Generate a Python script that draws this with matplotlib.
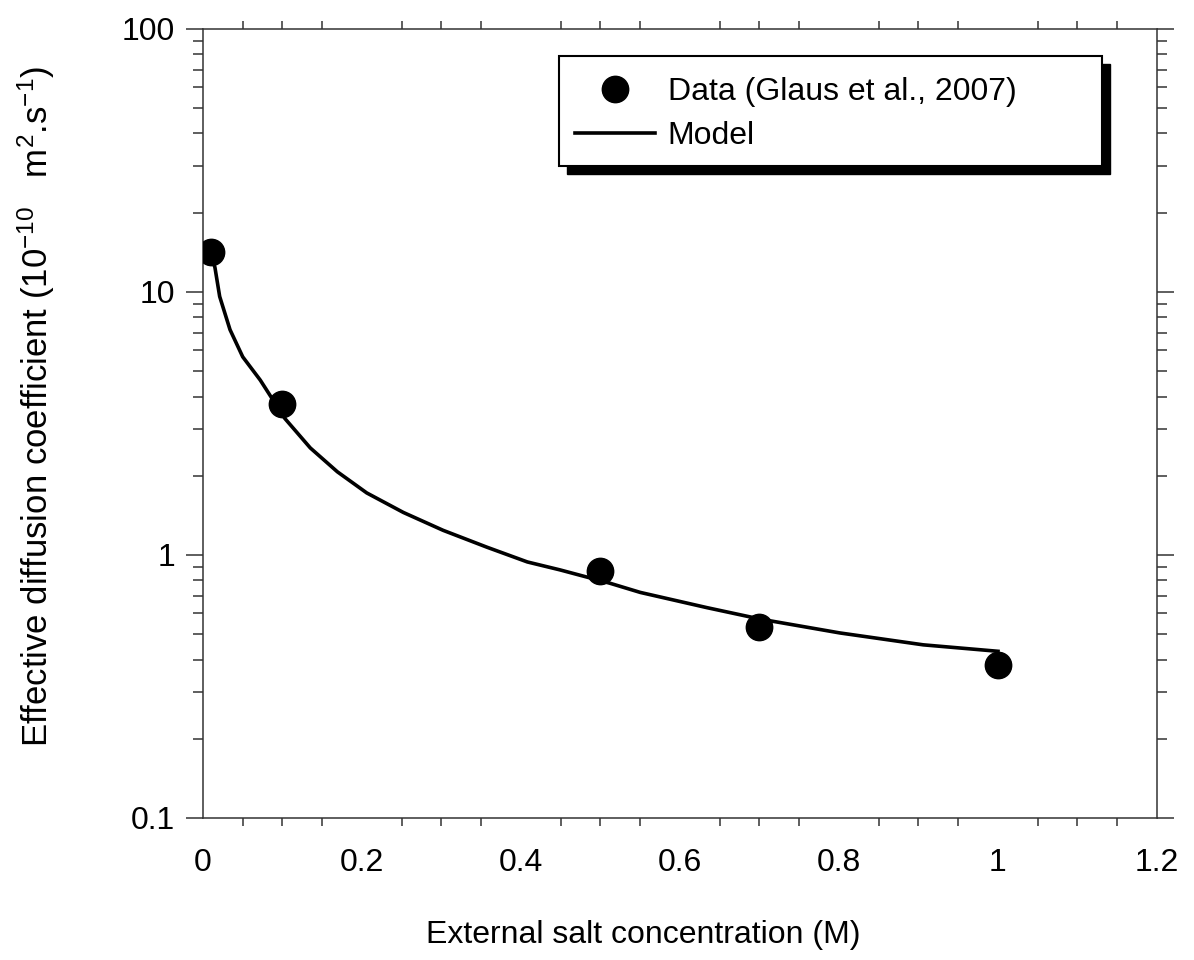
import matplotlib
matplotlib.use('Agg')
import matplotlib.pyplot as plt
from matplotlib.ticker import MultipleLocator, LogLocator, FuncFormatter, NullFormatter, FixedLocator
from matplotlib.patches import Rectangle

plt.rcParams['font.family'] = ['Liberation Sans', 'DejaVu Sans']
plt.rcParams['mathtext.fontset'] = 'custom'
plt.rcParams['mathtext.rm'] = 'Liberation Sans'
plt.rcParams['mathtext.it'] = 'Liberation Sans'
plt.rcParams['mathtext.default'] = 'regular'

# data
conc_data = [0.01, 0.1, 0.5, 0.7, 1.0]
de_data = [14.2, 3.75, 0.87, 0.53, 0.38]

conc_model = [0.01, 0.015, 0.021, 0.034, 0.05, 0.072, 0.103, 0.135, 0.169, 0.206,
              0.252, 0.302, 0.357, 0.408, 0.449, 0.512, 0.55, 0.634, 0.701, 0.801,
              0.906, 1.0]
de_model = [13.8, 12.4, 9.6, 7.18, 5.66, 4.62, 3.3, 2.55, 2.07, 1.72,
            1.45, 1.24, 1.07, 0.94, 0.877, 0.78, 0.72, 0.63, 0.57, 0.505,
            0.455, 0.43]

y_major = [0.1, 1, 10, 100]
x_major = [0, 0.2, 0.4, 0.6, 0.8, 1.0, 1.2]

fs = 23
axcol = '#333333'

fig = plt.figure(figsize=(11.94, 9.6), dpi=100)
ax = fig.add_axes([0.170, 0.148, 0.799, 0.822])

ax.plot(conc_model, de_model, '-', color='black', lw=2.6, zorder=3, label='Model')
ax.plot(conc_data, de_data, 'o', color='black', ms=19, zorder=4,
        label='Data (Glaus et al., 2007)')

ax.set_yscale('log')
ax.set_xlim(0, 1.2)
ax.set_ylim(0.1, 100)

ax.yaxis.set_major_locator(FixedLocator(y_major))
ax.yaxis.set_minor_locator(LogLocator(base=10, subs=range(2, 10)))
ax.yaxis.set_major_formatter(FuncFormatter(lambda v, p: '%g' % v))
ax.yaxis.set_minor_formatter(NullFormatter())

ax.xaxis.set_major_locator(FixedLocator(x_major))
ax.xaxis.set_minor_locator(MultipleLocator(0.05))
ax.xaxis.set_major_formatter(FuncFormatter(lambda v, p: '%g' % v))

for s in ax.spines.values():
    s.set_color(axcol)
    s.set_linewidth(1.1)

ax.tick_params(axis='y', which='major', direction='out', length=12, width=1.1,
               color=axcol, labelsize=fs, pad=8, left=True, right=True)
ax.tick_params(axis='y', which='minor', direction='out', length=7, width=1.1,
               color=axcol, left=True, right=True)
ax.tick_params(axis='x', which='major', direction='out', length=0, width=1.1,
               color=axcol, labelsize=fs, pad=22, bottom=True, top=True)
ax.tick_params(axis='x', which='minor', direction='out', length=6, width=1.1,
               color=axcol, bottom=True, top=True)

ax.set_xlabel('External salt concentration (M)', fontsize=fs)
ax.xaxis.set_label_coords(0.461, -0.129)
ax.set_ylabel(r'Effective diffusion coefficient (10$^{-10}$   m$^{2}$.s$^{-1}$)',
              fontsize=25)
ax.yaxis.set_label_coords(-0.153, 0.521)

# legend box with a hard black shadow
box_x0, box_y0, box_w, box_h = 0.373, 0.826, 0.569, 0.140
ax.add_patch(Rectangle((box_x0 + 0.0084, box_y0 - 0.0101), box_w, box_h,
                       transform=ax.transAxes, facecolor='black', edgecolor='black',
                       clip_on=False, zorder=5))
ax.add_patch(Rectangle((box_x0, box_y0), box_w, box_h, transform=ax.transAxes,
                       facecolor='white', edgecolor='black', lw=1.5,
                       clip_on=False, zorder=6))

handles, labels = ax.get_legend_handles_labels()
leg = ax.legend(handles[::-1], labels[::-1], loc='upper left',
                bbox_to_anchor=(0.390, 0.939), frameon=False, fontsize=fs,
                borderpad=0, borderaxespad=0, handlelength=2.5,
                handletextpad=0.4, labelspacing=0.45, numpoints=1)
leg.set_zorder(7)

fig.savefig('out.png', dpi=100)
